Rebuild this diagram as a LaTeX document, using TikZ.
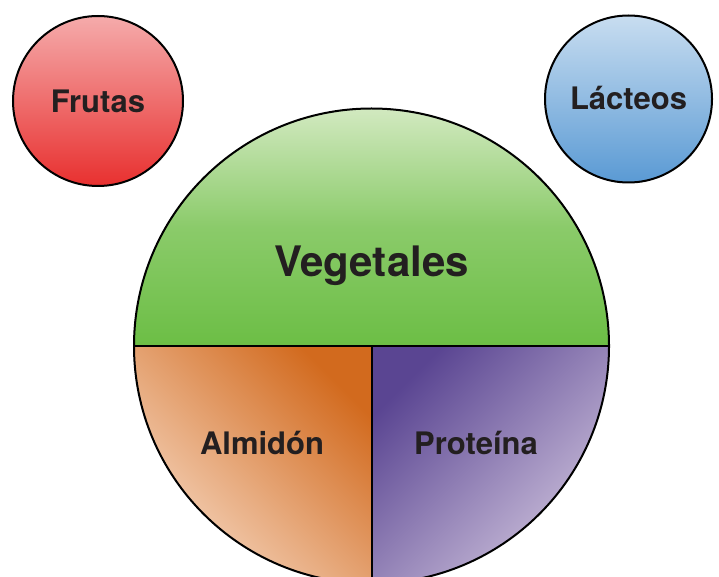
\documentclass[tikz,border=0pt]{standalone}
\usepackage{fontspec}
\setmainfont{TeX Gyre Heros}
\definecolor{txt}{HTML}{231F20}
\definecolor{redT}{HTML}{F5ABAB}
\definecolor{redB}{HTML}{E8302F}
\definecolor{blueT}{HTML}{C8DDF0}
\definecolor{blueB}{HTML}{5A9AD4}
\definecolor{greenT}{HTML}{D2E9C0}
\definecolor{greenB}{HTML}{6CBE45}
\definecolor{orD}{HTML}{D26A1E}
\definecolor{orL}{HTML}{F6D8C2}
\definecolor{puD}{HTML}{5A4592}
\definecolor{puL}{HTML}{CFC3DD}
\tikzset{
  lbl/.style={text=txt, font=\bfseries\fontsize{31}{31}\selectfont},
  bubble/.style={circle, draw=black, line width=2pt, inner sep=0pt, lbl},
}
\begin{document}
\begin{tikzpicture}[x=1pt,y=-1pt]
\useasboundingbox (0,0) rectangle (719,577);
\node[bubble, minimum size=170pt, top color=redT, bottom color=redB] (frutas) at (98,101) {Frutas};
\node[bubble, minimum size=167pt, top color=blueT, bottom color=blueB] (lacteos) at (628.5,99) {\raisebox{2pt}{Lácteos}};
\begin{scope}
\clip (0,0) rectangle (719,577);
\shade[top color=greenT, bottom color=greenB, middle color=greenB!70!greenT] (134,346) arc[start angle=180, end angle=360, radius=237.5] -- cycle;
\shade[top color=orD, bottom color=orL, shading angle=-45] (371.5,346) -- (134,346) arc[start angle=180, end angle=90, radius=237.5] -- cycle;
\shade[top color=puD, bottom color=puL, shading angle=45] (371.5,346) -- (609,346) arc[start angle=0, end angle=90, radius=237.5] -- cycle;
\draw[line width=2pt] (371.5,346) circle[radius=237.5];
\coordinate (cl) at (134,346);
\coordinate (cr) at (609,346);
\coordinate (cc) at (371.5,346);
\coordinate (cb) at (371.5,590);
\draw[line width=2pt] (cl) -- (cr);
\draw[line width=2pt] (cc) -- (cb);
\end{scope}
\node[lbl, font=\bfseries\fontsize{42}{42}\selectfont] (veg) at (371.5,266) {Vegetales};
\node[lbl] (alm) at (262,443) {Almidón};
\node[lbl] (pro) at (476,443) {Proteína};
\end{tikzpicture}
\end{document}
